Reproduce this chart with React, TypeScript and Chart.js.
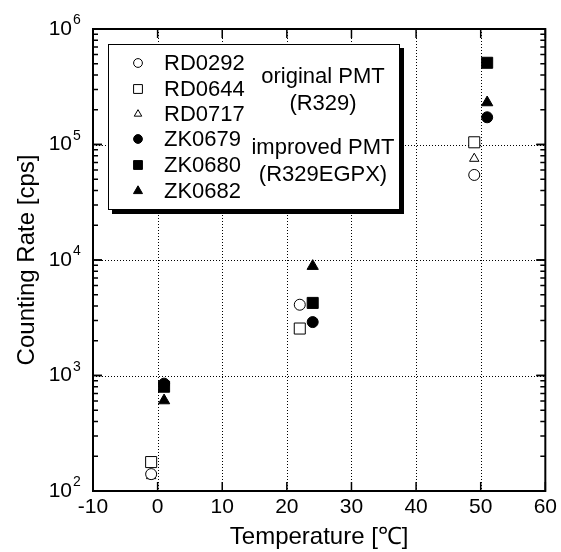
import { useEffect, useRef } from 'react';
import { Chart, registerables } from 'chart.js';

Chart.register(...registerables);

const FONT = '"Liberation Sans", Arial, Helvetica, sans-serif';

// ---- data ----
const originalTemps = [-1, 22, 49];
const improvedTemps = [1, 24, 51];
const rd0292 = [140, 4100, 54500];
const rd0644 = [178, 2550, 104500];
const rd0717 = [135, 2500, 75500];
const zk0679 = [850, 2900, 172000];
const zk0680 = [800, 4250, 510000];
const zk0682 = [607, 8850, 231000];

const seriesNames = ['RD0292', 'RD0644', 'RD0717', 'ZK0679', 'ZK0680', 'ZK0682'];
const xTickValues = [-10, 0, 10, 20, 30, 40, 50, 60];
const xGridValues = [0, 10, 20, 30, 40, 50];
const yExponents = [2, 3, 4, 5, 6];
const annotationLines = ['original PMT', '(R329)', 'improved PMT', '(R329EGPX)'];
const xTitle = 'Temperature [\u2103]';
const yTitle = 'Counting Rate [cps]';

type MarkerStyle = { shape: 'circle' | 'rect' | 'triangle'; filled: boolean; r: number };
const markerStyles: MarkerStyle[] = [
  { shape: 'circle', filled: false, r: 5.5 },
  { shape: 'rect', filled: false, r: 7.8 },
  { shape: 'triangle', filled: false, r: 5.4 },
  { shape: 'circle', filled: true, r: 5.5 },
  { shape: 'rect', filled: true, r: 7.8 },
  { shape: 'triangle', filled: true, r: 6.5 },
];

function pts(xs: number[], ys: number[]) {
  return xs.map((x, i) => ({ x, y: ys[i] }));
}

function drawMarker(ctx: CanvasRenderingContext2D, m: MarkerStyle, x: number, y: number, scale: number) {
  const r = m.r * scale;
  ctx.beginPath();
  if (m.shape === 'circle') {
    ctx.arc(x, y, r, 0, Math.PI * 2);
  } else if (m.shape === 'rect') {
    const s = r * Math.SQRT1_2;
    ctx.rect(x - s, y - s, 2 * s, 2 * s);
  } else {
    ctx.moveTo(x, y - r);
    ctx.lineTo(x + 0.866 * r, y + 0.5 * r);
    ctx.lineTo(x - 0.866 * r, y + 0.5 * r);
    ctx.closePath();
  }
  ctx.fillStyle = m.filled ? '#000' : '#fff';
  ctx.fill();
  ctx.lineWidth = 1;
  ctx.strokeStyle = '#000';
  ctx.stroke();
}

const framePlugin = {
  id: 'frame',
  beforeDatasetsDraw(chart: any) {
    const { ctx, chartArea: a, scales } = chart;
    const xs = scales.x;
    const ys = scales.y;
    ctx.save();
    // dotted grid
    ctx.strokeStyle = '#000';
    ctx.lineWidth = 1;
    ctx.setLineDash([1, 2]);
    xGridValues.forEach((v) => {
      const px = Math.round(xs.getPixelForValue(v)) + 0.5;
      ctx.beginPath();
      ctx.moveTo(px, a.top);
      ctx.lineTo(px, a.bottom);
      ctx.stroke();
    });
    yExponents.slice(1, -1).forEach((e) => {
      const py = Math.round(ys.getPixelForValue(Math.pow(10, e))) + 0.5;
      ctx.beginPath();
      ctx.moveTo(a.left, py);
      ctx.lineTo(a.right, py);
      ctx.stroke();
    });
    ctx.setLineDash([]);
    // ticks
    ctx.lineWidth = 1.5;
    xTickValues.forEach((v) => {
      const px = xs.getPixelForValue(v);
      ctx.beginPath();
      ctx.moveTo(px, a.bottom);
      ctx.lineTo(px, a.bottom - 9);
      ctx.moveTo(px, a.top);
      ctx.lineTo(px, a.top + 9);
      ctx.stroke();
    });
    for (let e = 2; e < 6; e++) {
      for (let k = 1; k <= 10; k++) {
        const py = ys.getPixelForValue(k * Math.pow(10, e));
        const len = k === 1 || k === 10 ? 9 : 5;
        ctx.beginPath();
        ctx.moveTo(a.left, py);
        ctx.lineTo(a.left + len, py);
        ctx.moveTo(a.right, py);
        ctx.lineTo(a.right - len, py);
        ctx.stroke();
      }
    }
    // border
    ctx.lineWidth = 2;
    ctx.strokeRect(a.left, a.top, a.right - a.left, a.bottom - a.top);
    ctx.restore();
  },
  afterDraw(chart: any) {
    const { ctx, scales } = chart;
    const ys = scales.y;
    ctx.save();
    // y tick labels 10^n
    ctx.fillStyle = '#000';
    yExponents.forEach((e) => {
      const py = ys.getPixelForValue(Math.pow(10, e));
      ctx.font = `21px ${FONT}`;
      ctx.textAlign = 'right';
      ctx.textBaseline = 'middle';
      ctx.fillText('10', 72, py);
      ctx.font = `14px ${FONT}`;
      ctx.textAlign = 'left';
      ctx.textBaseline = 'alphabetic';
      ctx.fillText(String(e), 73, py - 5);
    });
    // legend box
    const L = 108, T = 44, R = 400, B = 210;
    ctx.fillStyle = '#000';
    ctx.fillRect(L + 4, T + 4, R - L, B - T);
    ctx.fillStyle = '#fff';
    ctx.fillRect(L, T, R - L, B - T);
    ctx.strokeStyle = '#000';
    ctx.lineWidth = 1;
    ctx.strokeRect(L + 0.5, T + 0.5, R - L - 1, B - T - 1);
    const rowY = [63, 89, 114, 139, 165, 191];
    seriesNames.forEach((name, i) => {
      drawMarker(ctx, markerStyles[i], 138, rowY[i], 0.8);
      ctx.fillStyle = '#000';
      ctx.font = `22px ${FONT}`;
      ctx.textAlign = 'left';
      ctx.textBaseline = 'middle';
      ctx.fillText(name, 164, rowY[i] + 1);
    });
    const annY = [77, 104, 148, 175];
    ctx.textAlign = 'center';
    annotationLines.forEach((t, i) => {
      ctx.fillText(t, 323, annY[i]);
    });
    ctx.restore();
  },
};

export default function App() {
  const ref = useRef<HTMLCanvasElement>(null);
  useEffect(() => {
    document.body.style.margin = '0';
    const datasets = [
      pts(originalTemps, rd0292),
      pts(originalTemps, rd0644),
      pts(originalTemps, rd0717),
      pts(improvedTemps, zk0679),
      pts(improvedTemps, zk0680),
      pts(improvedTemps, zk0682),
    ].map((data, i) => ({
      label: seriesNames[i],
      data,
      showLine: false,
      pointStyle: markerStyles[i].shape,
      pointRadius: markerStyles[i].r,
      pointHoverRadius: markerStyles[i].r,
      pointBackgroundColor: markerStyles[i].filled ? '#000' : '#fff',
      pointBorderColor: '#000',
      pointBorderWidth: 1,
    }));
    const chart = new Chart(ref.current!, {
      type: 'scatter',
      data: { datasets },
      plugins: [framePlugin],
      options: {
        responsive: false,
        animation: false,
        layout: { padding: { left: 0, right: 12, top: 29, bottom: 0 } },
        plugins: { legend: { display: false }, tooltip: { enabled: false } },
        scales: {
          x: {
            type: 'linear',
            min: -10,
            max: 60,
            afterBuildTicks: (s: any) => {
              s.ticks = xTickValues.map((v) => ({ value: v }));
            },
            grid: { display: false, drawTicks: false },
            border: { display: false },
            ticks: { color: '#000', font: { family: FONT, size: 21 }, padding: 4 },
            title: { display: true, text: xTitle, color: '#000', font: { family: FONT, size: 24 }, padding: 0 },
            afterFit: (s: any) => {
              s.height = 61;
            },
          },
          y: {
            type: 'logarithmic',
            min: 100,
            max: 1e6,
            grid: { display: false, drawTicks: false },
            border: { display: false },
            ticks: { display: false },
            title: { display: true, text: yTitle, color: '#000', font: { family: FONT, size: 24 }, padding: { top: 13, bottom: 0 } },
            afterFit: (s: any) => {
              s.width = 93;
            },
          },
        },
      },
    });
    return () => chart.destroy();
  }, []);
  return <canvas ref={ref} width={561} height={552} style={{ display: 'block' }} />;
}
